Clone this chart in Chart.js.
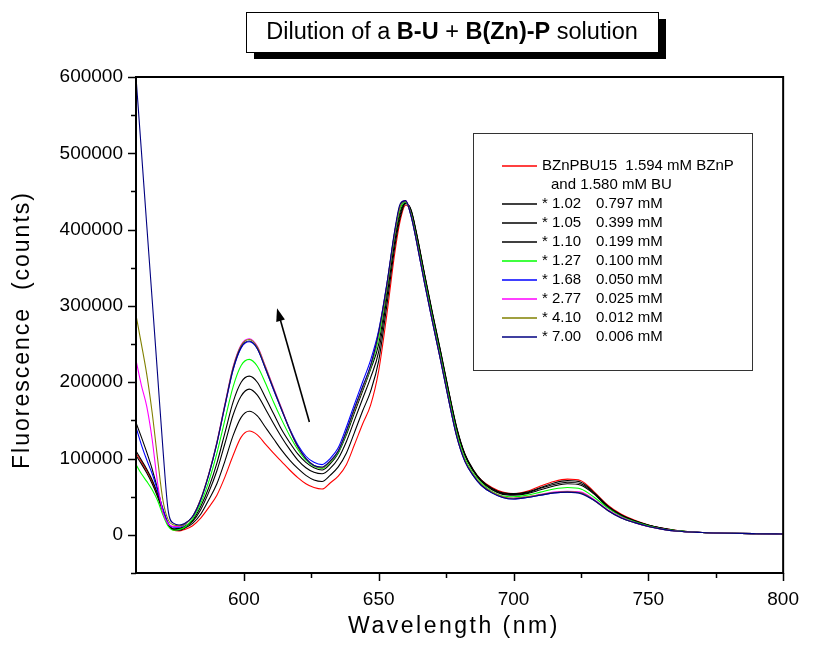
<!DOCTYPE html>
<html><head><meta charset="utf-8">
<script src="https://cdn.jsdelivr.net/npm/chart.js@4.4.0/dist/chart.umd.min.js"></script>
<style>html,body{margin:0;padding:0;background:#fff;}#wrap{width:814px;height:665px;}</style>
</head><body><div id="wrap"><canvas id="c" width="814" height="665"></canvas></div>
<script>
// ---- data ----
const wavelengths = [560,562,564,566,568,570,572,574,576,578,581,584,587,590,593,596,599,602,605,608,611,614,617,620,623,626,629,632,635,638,641,644,647,650,653,656,658,660,662,664,667,670,673,676,679,682,685,688,692,696,700,705,710,715,720,725,730,735,740,745,750,755,760,770,780,790,800];

const sBZnPBU15 = [107000,96000,84000,70000,52000,32000,14000,6000,5000,7000,
 12000,22000,36000,52000,76000,104000,128000,136000,131000,119000,
 107000,96000,85000,75000,67000,62000,60000,68000,77000,92000,
 118000,145000,170000,215000,288000,370000,412000,432000,424000,394000,
 340000,287000,237000,186000,138000,105000,85000,72000,62000,56000,
 54000,57000,64000,70000,73000,71000,56000,39000,27000,19000,
 13000,9000,6000,3000,2000,1500,1200];
const s102 = [110000,98000,86000,72000,54000,33000,14000,7000,6000,8500,
 15000,27000,46000,67000,97000,130000,154000,162000,156000,141000,
 126000,111000,98000,87000,78000,72000,70000,78000,89000,107000,
 134000,162000,188000,228000,300000,378000,416000,434000,426000,396000,
 342000,290000,240000,188000,140000,106000,86000,72000,61000,55000,
 54000,56000,62000,68000,71000,69000,55000,38000,26000,18500,
 13000,9000,6000,3000,2000,1500,1200];
const s105 = [104000,93000,81000,67000,50000,30000,13000,7000,7500,10000,
 17500,33000,56000,84000,120000,157000,182000,191000,183000,165000,
 146000,128000,112000,98000,88000,82000,80000,87000,100000,122000,
 150000,178000,206000,240000,310000,385000,420000,435000,425000,395000,
 341000,289000,239000,187000,139000,105000,85000,71000,60000,54000,
 53000,55000,61000,66000,69000,67000,54000,37000,26000,18000,
 12500,8500,5500,3000,2000,1500,1200];
const s110 = [147000,128000,108000,86000,60000,32000,13000,8000,8500,11000,
 19000,37000,62000,94000,134000,174000,200000,208000,200000,180000,
 159000,138000,121000,106000,95000,88000,85000,93000,107000,131000,
 160000,188000,217000,250000,318000,390000,424000,435000,424000,394000,
 340000,288000,238000,186000,138000,104000,84000,70000,59000,53000,
 52000,54000,59000,64000,67000,65000,53000,36000,25000,18000,
 12500,8500,5500,3000,2000,1500,1200];
const s127 = [92000,80000,70000,59000,45000,26000,11000,6000,7000,10000,
 21000,41000,70000,107000,151000,194000,222000,230000,221000,199000,
 174000,151000,130000,112000,98000,90000,87000,95000,108000,133000,
 163000,191000,219000,258000,322000,394000,428000,436000,421000,389000,
 335000,283000,233000,181000,133000,100000,81000,68000,57000,51000,
 50000,52000,56000,60000,62000,60000,49000,35000,24000,17000,
 12000,8000,5500,3000,2000,1500,1200];
const s168 = [141000,118000,98000,80000,58000,34000,15000,10000,10000,13000,
 24000,46000,79000,120000,169000,216000,245000,253000,244000,218000,
 190000,164000,139000,118000,103000,95000,92000,100000,114000,141000,
 171000,200000,229000,268000,328000,398000,432000,437000,418000,385000,
 330000,278000,228000,176000,128000,96000,78000,65000,55000,49000,
 47000,49000,52000,55000,56000,55000,45000,32000,22000,16000,
 11000,7500,5000,3000,2000,1500,1200];
const s277 = [229000,196000,168000,125000,68000,29000,14000,11000,11000,14000,
 24000,47000,80000,122000,172000,220000,249000,257000,247000,221000,
 193000,166000,138000,115000,100000,91000,88000,96000,110000,135000,
 164000,192000,221000,264000,326000,397000,432000,438000,419000,386000,
 331000,279000,229000,177000,129000,97000,79000,66000,56000,50000,
 48000,50000,53000,56000,57000,56000,46000,33000,23000,16000,
 11000,7500,5000,3000,2000,1500,1200];
const s410 = [288000,250000,210000,160000,100000,45000,19000,13000,12000,14000,
 24000,47000,80000,121000,171000,219000,248000,256000,246000,220000,
 192000,165000,138000,115000,100000,91000,88000,96000,110000,135000,
 164000,192000,221000,264000,326000,397000,431000,437000,419000,386000,
 331000,279000,229000,177000,129000,97000,79000,66000,56000,50000,
 48000,50000,52500,55500,56500,55000,45000,32000,22000,16000,
 11000,7500,5000,3000,2000,1500,1200];
const s700 = [600000,503000,405000,308000,210000,112000,30000,15000,13000,15000,
 24000,46000,79000,120000,170000,217000,246000,254000,244000,218000,
 191000,164000,138000,116000,100000,91000,89000,97000,110000,136000,
 166000,194000,222000,266000,328000,400000,434000,438000,418000,385000,
 330000,278000,228000,176000,128000,96000,78000,65000,55000,49000,
 47000,49000,52000,55000,56000,54000,45000,32000,22000,16000,
 11000,7500,5000,3000,2000,1500,1200];

const seriesValues = [sBZnPBU15, s102, s105, s110, s127, s168, s277, s410, s700];
const seriesColors = ['#ff0000','#000000','#000000','#000000','#00ff00','#0000ff','#ff00ff','#808000','#000080'];
const legendFactors = ['BZnPBU15  1.594 mM BZnP','* 1.02','* 1.05','* 1.10','* 1.27','* 1.68','* 2.77','* 4.10','* 7.00'];
const legendConc = ['and 1.580 mM BU','0.797 mM','0.399 mM','0.199 mM','0.100 mM','0.050 mM','0.025 mM','0.012 mM','0.006 mM'];
const titleParts = [['Dilution of a ', false], ['B-U', true], [' + ', false], ['B(Zn)-P', true], [' solution', false]];
const xTitle = 'Wavelength (nm)';
const yTitle = 'Fluorescence  (counts)';
const xMin = 560, xMax = 800, xStep = 25;
const yMin = -50000, yMax = 600000, yStep = 50000;
const arrowFrom = [624.3, 148000];
const arrowTo = [612.3, 297000];

// ---- chart ----
const FONT = 'Liberation Sans, Arial, Helvetica, sans-serif';
Chart.defaults.font.family = FONT;
Chart.defaults.color = '#000';

const datasets = seriesValues.map((vals, i) => ({
  label: legendFactors[i],
  data: wavelengths.map((w, k) => ({x: w, y: vals[k]})),
  borderColor: seriesColors[i],
  backgroundColor: seriesColors[i],
  borderWidth: 1.1,
  pointRadius: 0,
  fill: false,
  cubicInterpolationMode: 'monotone',
  order: seriesValues.length - i
}));

const deco = {
  id: 'deco',
  afterDraw(chart) {
    const ctx = chart.ctx, a = chart.chartArea, xs = chart.scales.x, ys = chart.scales.y;
    ctx.save();
    // frame
    ctx.strokeStyle = '#000';
    ctx.lineWidth = 2;
    ctx.strokeRect(a.left, a.top, a.right - a.left, a.bottom - a.top);
    // ticks
    ctx.lineWidth = 1.5;
    ctx.beginPath();
    xs.ticks.forEach(t => {
      if (t.value <= xMin) return;
      const px = Math.round(xs.getPixelForValue(t.value)) + 0.5;
      const len = (t.value % 50 === 0) ? 8 : 5;
      ctx.moveTo(px, a.bottom); ctx.lineTo(px, a.bottom + len);
    });
    ys.ticks.forEach(t => {
      const py = Math.round(ys.getPixelForValue(t.value)) + 0.5;
      const len = (t.value >= 0 && t.value % 100000 === 0) ? 8 : 5;
      ctx.moveTo(a.left, py); ctx.lineTo(a.left - len, py);
    });
    ctx.stroke();

    // arrow
    const x1 = xs.getPixelForValue(arrowFrom[0]), y1 = ys.getPixelForValue(arrowFrom[1]);
    const x2 = xs.getPixelForValue(arrowTo[0]), y2 = ys.getPixelForValue(arrowTo[1]);
    const ang = Math.atan2(y2 - y1, x2 - x1);
    const hl = 13, hw = 4.5;
    ctx.lineWidth = 1.6;
    ctx.beginPath();
    ctx.moveTo(x1, y1);
    ctx.lineTo(x2 - Math.cos(ang) * hl * 0.8, y2 - Math.sin(ang) * hl * 0.8);
    ctx.stroke();
    ctx.beginPath();
    ctx.moveTo(x2, y2);
    ctx.lineTo(x2 - Math.cos(ang) * hl - Math.sin(ang) * hw, y2 - Math.sin(ang) * hl + Math.cos(ang) * hw);
    ctx.lineTo(x2 - Math.cos(ang) * hl + Math.sin(ang) * hw, y2 - Math.sin(ang) * hl - Math.cos(ang) * hw);
    ctx.closePath();
    ctx.fillStyle = '#000';
    ctx.fill();

    // title box with shadow
    const bx = 246, by = 12, bw = 412, bh = 40;
    ctx.fillStyle = '#000';
    ctx.fillRect(bx + 8, by + 7, bw, bh);
    ctx.fillStyle = '#fff';
    ctx.fillRect(bx, by, bw, bh);
    ctx.lineWidth = 1;
    ctx.strokeStyle = '#000';
    ctx.strokeRect(bx + 0.5, by + 0.5, bw, bh);
    const TF = '23.5px ';
    let total = 0;
    titleParts.forEach(p => { ctx.font = (p[1] ? 'bold ' : '') + TF + FONT; total += ctx.measureText(p[0]).width; });
    let tx = bx + bw / 2 - total / 2;
    ctx.fillStyle = '#000';
    ctx.textBaseline = 'middle';
    ctx.textAlign = 'left';
    titleParts.forEach(p => { ctx.font = (p[1] ? 'bold ' : '') + TF + FONT; ctx.fillText(p[0], tx, by + bh / 2 + 1); tx += ctx.measureText(p[0]).width; });

    // legend box
    const lx = 473, ly = 133, lw = 279, lh = 237;
    ctx.fillStyle = '#fff';
    ctx.fillRect(lx, ly, lw, lh);
    ctx.strokeStyle = '#333';
    ctx.lineWidth = 1;
    ctx.strokeRect(lx + 0.5, ly + 0.5, lw, lh);
    ctx.font = '15px ' + FONT;
    ctx.textBaseline = 'middle';
    let ry = 166;
    seriesColors.forEach((col, i) => {
      ctx.strokeStyle = col;
      ctx.lineWidth = 1.5;
      ctx.beginPath();
      ctx.moveTo(502, Math.round(ry)); ctx.lineTo(537, Math.round(ry));
      ctx.stroke();
      ctx.fillStyle = '#000';
      ctx.fillText(legendFactors[i], 542, ry);
      if (i === 0) {
        ry += 19;
        ctx.fillText(legendConc[i], 551, ry);
      } else {
        ctx.fillText(legendConc[i], 596, ry);
      }
      ry += 19;
    });

    // axis titles
    ctx.fillStyle = '#000';
    ctx.font = '23px ' + FONT;
    ctx.textAlign = 'center';
    ctx.textBaseline = 'middle';
    try { ctx.letterSpacing = '2.5px'; } catch (e) {}
    ctx.fillText(xTitle, 454, 627);
    ctx.save();
    ctx.translate(23, 330);
    ctx.rotate(-Math.PI / 2);
    try { ctx.letterSpacing = '2px'; } catch (e) {}
    ctx.fillText(yTitle, 0, 0);
    ctx.restore();
    try { ctx.letterSpacing = '0px'; } catch (e) {}
    ctx.restore();
  }
};

new Chart(document.getElementById('c'), {
  type: 'line',
  data: { datasets },
  options: {
    responsive: false,
    animation: false,
    devicePixelRatio: 1,
    layout: { padding: { left: 0, right: 17, top: 77, bottom: 0 } },
    plugins: { legend: { display: false }, tooltip: { enabled: false }, title: { display: false } },
    scales: {
      x: {
        type: 'linear', min: xMin, max: xMax,
        afterFit: s => { s.height = 92; },
        grid: { display: false, drawTicks: false },
        border: { display: false },
        ticks: { stepSize: xStep, autoSkip: false, maxRotation: 0, padding: 15,
          font: { size: 19, family: FONT }, color: '#000',
          callback: v => (v % 50 === 0 ? String(v) : '') }
      },
      y: {
        type: 'linear', min: yMin, max: yMax,
        afterFit: s => { s.width = 136; },
        grid: { display: false, drawTicks: false },
        border: { display: false },
        ticks: { stepSize: yStep, autoSkip: false, padding: 13,
          font: { size: 19, family: FONT }, color: '#000',
          callback: v => (v >= 0 && v % 100000 === 0 ? String(v) : '') }
      }
    }
  },
  plugins: [deco]
});
</script>
</body></html>
